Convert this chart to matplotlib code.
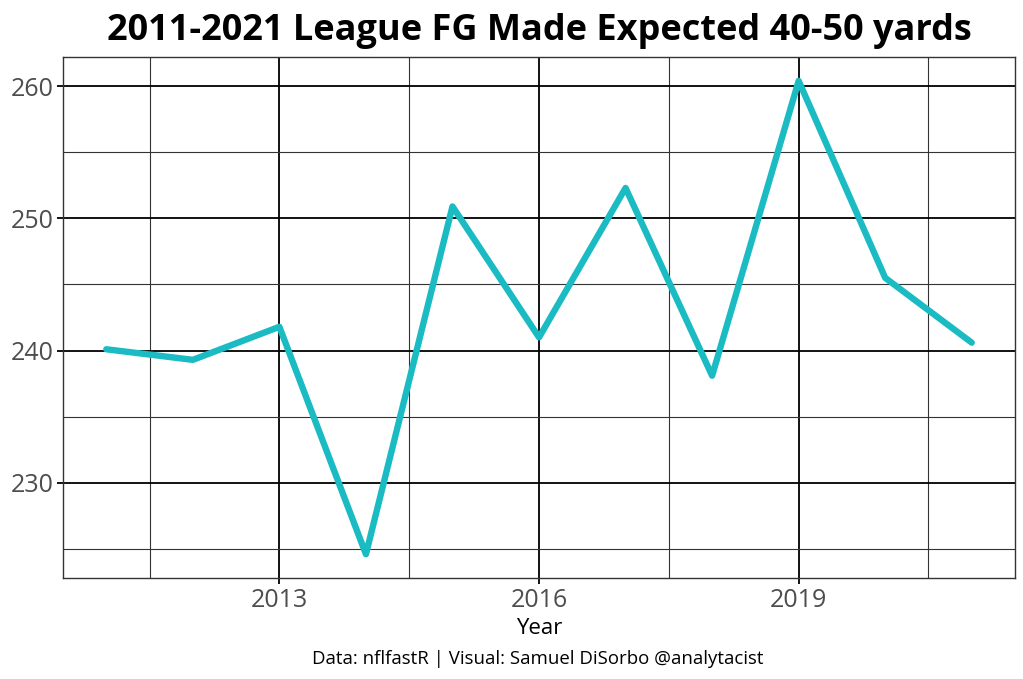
import matplotlib
matplotlib.use("Agg")
import matplotlib.pyplot as plt
from matplotlib.ticker import FixedLocator

years = [2011, 2012, 2013, 2014, 2015, 2016, 2017, 2018, 2019, 2020, 2021]
fg_expected = [240.1, 239.3, 241.8, 224.6, 250.9, 241.0, 252.3, 238.1, 260.4, 245.5, 240.6]
x_major = [2013, 2016, 2019]
x_minor = [2011.5, 2014.5, 2017.5, 2020.5]
y_major = [230, 240, 250, 260]
y_minor = [225, 235, 245, 255]

plt.rcParams['font.family'] = ['Open Sans', 'DejaVu Sans']

fig = plt.figure(figsize=(10.23, 6.79), dpi=100)
ax = fig.add_axes([0.0616, 0.1487, 0.9306, 0.7673])

ax.plot(years, fg_expected, color='#1ABBC2', linewidth=4.6, solid_capstyle='round', zorder=3)

ax.set_xlim(2010.5, 2021.5)
ax.set_ylim(222.8, 262.2)
ax.xaxis.set_major_locator(FixedLocator(x_major))
ax.xaxis.set_minor_locator(FixedLocator(x_minor))
ax.yaxis.set_major_locator(FixedLocator(y_major))
ax.yaxis.set_minor_locator(FixedLocator(y_minor))

ax.grid(which='major', color='black', linewidth=1.3)
ax.grid(which='minor', color='#333333', linewidth=0.8)
ax.set_axisbelow(True)

for s in ax.spines.values():
    s.set_color('#333333')
    s.set_linewidth(1.0)

ax.tick_params(which='major', length=4, width=1.3, color='black', labelsize=18, labelcolor='#4d4d4d', pad=3)
ax.tick_params(which='minor', length=0)

ax.set_xlabel('Year', fontsize=16, color='black', labelpad=4)
ax.set_title('2011-2021 League FG Made Expected 40-50 yards', fontsize=26, fontweight='bold', pad=12)
fig.text(0.526, 0.022, 'Data: nflfastR | Visual: Samuel DiSorbo @analytacist', ha='center', fontsize=13.4)

fig.savefig('out.png', dpi=100)
